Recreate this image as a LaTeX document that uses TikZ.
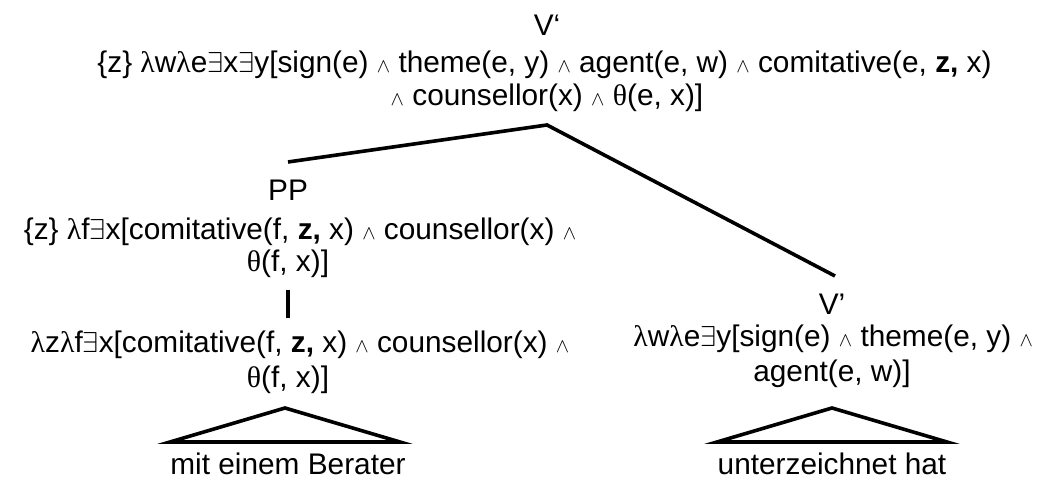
\documentclass[tikz,border=0pt]{standalone}
\usepackage{fontspec}
\setmainfont{Liberation Sans}
\newfontfamily\symf{Liberation Serif}
\newcommand{\lam}{{\symf λ}}
\newcommand{\thet}{{\symf θ}}
\newcommand{\ex}{$\exists$}
\newcommand{\wed}{$\scriptstyle\wedge$}
\begin{document}
\begin{tikzpicture}[x=0.5pt,y=-0.5pt,
  lbl/.style={anchor=base, inner sep=0pt, font=\fontsize{14.9}{17}\selectfont},
  lblw/.style={lbl, anchor=base west},
  branch/.style={line width=1.8pt, line cap=butt, line join=miter}]
\useasboundingbox (0,0) rectangle (1041,480);
% top node
\node[lbl] (vtop1) at (547,36) {V‘};
\node[lblw] (vtop2) at (97,73) {\{z\} \lam w\lam e\ex x\ex y[sign(e) \wed{} theme(e, y) \wed{} agent(e, w) \wed{} comitative(e, \textbf{z,} x)};
\node[lbl] (vtop3) at (547,106) {\wed{} counsellor(x) \wed{} \thet(e, x)]};
% PP
\node[lbl] (pp1) at (288,201) {PP};
\node[lbl] (pp2) at (300,240) {\{z\} \lam f\ex x[comitative(f, \textbf{z,} x) \wed{} counsellor(x) \wed};
\node[lbl] (pp3) at (288,272) {\thet(f, x)]};
% P
\node[lbl] (p1) at (300,353) {\lam z\lam f\ex x[comitative(f, \textbf{z,} x) \wed{} counsellor(x) \wed};
\node[lbl] (p2) at (288,388) {\thet(f, x)]};
\node[lbl] (pw) at (288,475) {mit einem Berater};
% V'
\node[lbl] (v1) at (832,315) {V’};
\node[lblw] (v2) at (633,347) {\lam w\lam e\ex y[sign(e) \wed{} theme(e, y) \wed};
\node[lbl] (v3) at (832,382) {agent(e, w)]};
\node[lbl] (vw) at (832,475) {unterzeichnet hat};
% connectors
\coordinate (topfoot) at (547,125);
\coordinate (pphead) at (288,162);
\coordinate (vhead) at (835,276);
\draw[branch] (pphead) -- (topfoot) -- (vhead);
\coordinate (barA) at (288,290);
\coordinate (barB) at (288,318);
\draw[branch] (barA) -- (barB);
% triangles
\coordinate (ltA) at (285,408);
\coordinate (ltL) at (170,442);
\coordinate (ltR) at (400,442);
\draw[branch] (ltA) -- (ltR) -- (ltL) -- cycle;
\coordinate (rtA) at (832,408);
\coordinate (rtL) at (717,442);
\coordinate (rtR) at (947,442);
\draw[branch] (rtA) -- (rtR) -- (rtL) -- cycle;
\end{tikzpicture}
\end{document}
